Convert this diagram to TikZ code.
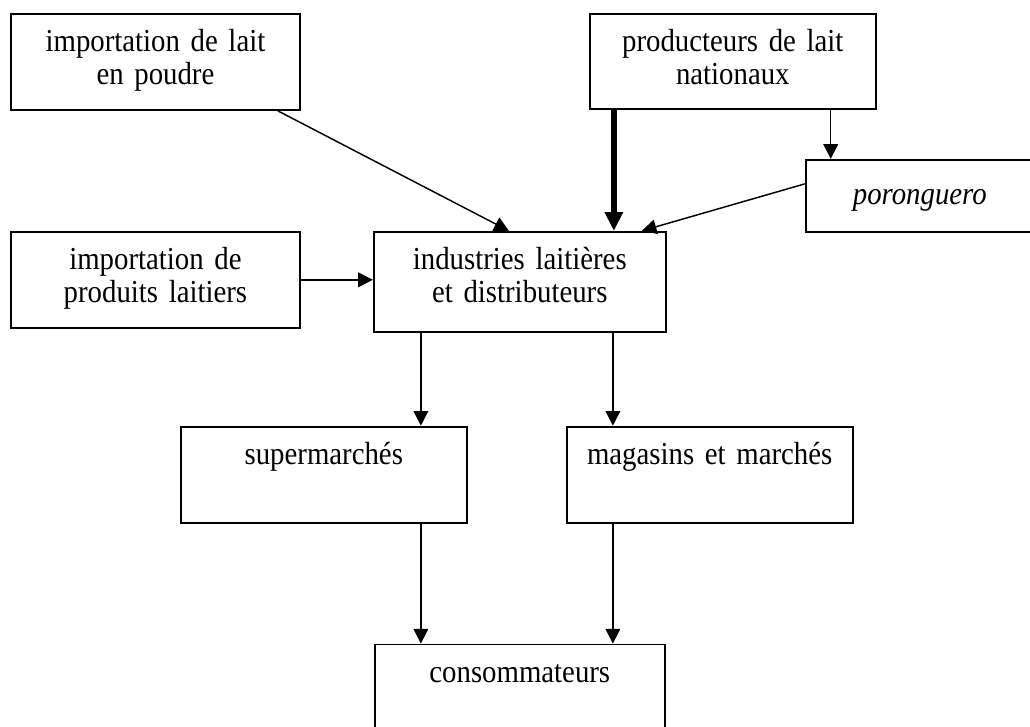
\documentclass[tikz,border=0pt]{standalone}
\usepackage{fontspec}
\setmainfont[FakeStretch=0.9,WordSpace=0.85]{Liberation Serif}
\usetikzlibrary{positioning,arrows.meta}
\begin{document}
\begin{tikzpicture}
	[node distance={20pt},
	line width=1.1pt,
	font=\fontsize{24pt}{24.8pt}\selectfont,
	box/.style = {draw, rectangle, line width=1.4pt, inner sep=0pt, align=center, text height=28.5pt, text depth=43.5pt},
	flow/.style = {-{Triangle[length=11pt,width=11pt]}},
	heavy/.style = {line width=4.3pt, -{Triangle[length=14pt,width=13pt]}}]
\useasboundingbox (0,0) rectangle (772.5pt,-545.25pt);
\clip (0,0) rectangle (772.5pt,-545.25pt);
\node[box, text width=216.75pt, anchor=north west] (1) at (7.5pt,-9.75pt) {importation de lait\\en poudre};
\node[box, text width=214.5pt, text depth=42.75pt] (2) [right=216pt of 1.north east, anchor=north west] {producteurs de lait\\nationaux};
\node[box, text width=171pt, text height=33.75pt, text depth=20.25pt] (3) [below=36.75pt of 2.south west, anchor=north west, xshift=162pt] {\itshape poronguero};
\node[box, text width=216.75pt] (4) [below=90pt of 1] {importation de\\produits laitiers};
\node[box, text width=219pt, text depth=46.5pt] (5) [right=54pt of 4.north east, anchor=north west] {industries laitières\\et distributeurs};
\node[box, text width=214.5pt] (6) [below=69.75pt of 5.south west, anchor=north west, xshift=-144.75pt] {supermarchés};
\node[box, text width=214.5pt] (7) [right=73.5pt of 6] {magasins et marchés};
\node[box, text width=217.5pt] (8) [below=90pt of 6.south west, anchor=north west, xshift=145.5pt] {consommateurs};
\draw[flow] ([xshift=-17.25pt]1.south east) -- ([xshift=102pt]5.north west);
\draw[heavy] ([xshift=18.75pt]2.south west) -- ([xshift=18.75pt]2.south west |- 5.north);
\draw[flow] ([xshift=-34.5pt]2.south east) -- ([xshift=-34.5pt]2.south east |- 3.north);
\draw[flow] ([yshift=-18.75pt]3.north west) -- ([xshift=-18.75pt]5.north east);
\draw[flow] (4.east) -- (4.east -| 5.west);
\draw[flow] ([xshift=36pt]5.south west) -- ([xshift=36pt]5.south west |- 6.north);
\draw[flow] ([xshift=180pt]5.south west) -- ([xshift=180pt]5.south west |- 7.north);
\draw[flow] ([xshift=36pt]5.south west |- 6.south) -- ([xshift=36pt]5.south west |- 8.north);
\draw[flow] ([xshift=180pt]5.south west |- 7.south) -- ([xshift=180pt]5.south west |- 8.north);
\end{tikzpicture}
\end{document}
